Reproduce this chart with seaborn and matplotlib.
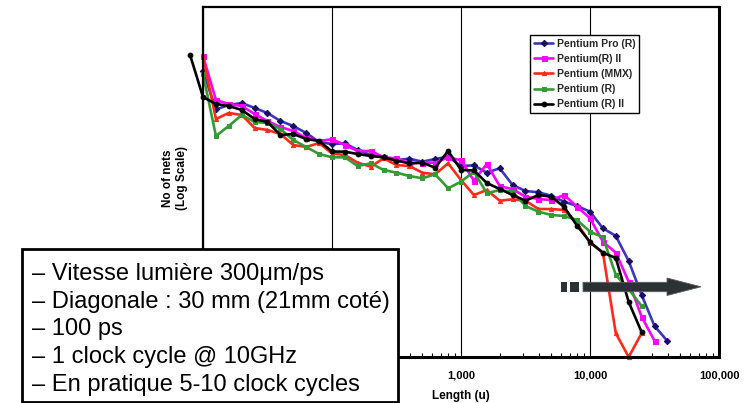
import matplotlib
matplotlib.use("Agg")
import matplotlib.pyplot as plt
from matplotlib.patches import Rectangle, Polygon
from matplotlib.ticker import FixedLocator, FuncFormatter, LogLocator, NullLocator
import seaborn as sns

# Net length bins (u), one bin per tenth of a decade
LENGTH = [7.94, 10, 12.6, 15.8, 20.0, 25.1, 31.6, 39.8, 50.1, 63.1, 79.4,
          100, 126, 158, 200, 251, 316, 398, 501, 631, 794,
          1000, 1259, 1585, 1995, 2512, 3162, 3981, 5012, 6310, 7943,
          10000, 12589, 15849, 19953, 25119, 31623, 39811]

# Number of nets per length bin
PENTIUM_PRO = [80000, 17500, 20900, 22600, 18570, 15240, 11110, 9120, 6920, 4850,
               4480, 4600, 3540, 2900, 2650, 2380, 2510, 2230, 2480, 2715,
               1880, 1930, 1445, 1720, 889, 701, 666, 582, 459, 388,
               310, 161, 119, 44.2, 11.6, 3.40, 1.88]
PENTIUM_II = [144500, 25460, 21730, 20090, 14650, 11110, 8770, 7480, 5680, 5050,
              5400, 4310, 3400, 3400, 2650, 2550, 2090, 2140, 2140, 2650,
              2355, 1060, 2035, 854, 750, 560, 511, 491, 598, 377,
              239, 94.8, 61.4, 19.5, 4.91, 1.90]
PENTIUM_MMX = [139000, 12020, 15240, 14090, 8430, 7790, 6650, 4310, 3980, 4665,
               3080, 2900, 2140, 1830, 2550, 1955, 1880, 1445, 1355, 2090,
               1082, 598, 729, 478, 505, 478, 344, 344, 331, 196,
               91.1, 61.4, 2.55, 1.0, 2.55]
PENTIUM = [71000, 6150, 9120, 14090, 10690, 10260, 8110, 5250, 3980, 3020,
           2650, 2650, 1880, 2090, 1610, 1445, 1268, 1157, 1355, 780,
           1012, 1503, 640, 729, 682, 388, 310, 272, 261, 223,
           141, 113, 25.5, 14.5, 7.48]
PENTIUM_II_B = [150400, 28650, 21730, 20090, 17150, 12020, 10690, 6400, 6650, 5460,
                5050, 3335, 3310, 3020, 2790, 2650, 2320, 2090, 2140, 1760,
                3400, 1610, 1575, 961, 759, 598, 478, 598, 560, 373,
                178, 93.6, 61.4, 49.8, 8.77, 2.68]

SERIES = ["Pentium Pro (R)", "Pentium(R) II", "Pentium (MMX)", "Pentium (R)", "Pentium (R) II"]
X_TICKS = [10, 100, 1000, 10000, 100000]
X_LABELED_FROM = 1000  # labels of the first decades sit under the notes box
NOTES = ["\u2013 Vitesse lumi\u00e8re 300\u03bcm/ps",
         "\u2013 Diagonale : 30 mm (21mm cot\u00e9)",
         "\u2013 100 ps",
         "\u2013 1 clock cycle @ 10GHz",
         "\u2013 En pratique 5-10 clock cycles"]

W, H = 744, 403
sns.set_theme(style="white")
plt.rcParams['font.family'] = ['Liberation Sans', 'DejaVu Sans']


def fx(px):
    return px / W


def fy(py):
    return 1 - py / H


fig = plt.figure(figsize=(W / 100, H / 100), dpi=100)
fig.patch.set_facecolor("white")
ax = fig.add_axes([fx(203), fy(357), (719 - 203) / W, (357 - 7) / H])
ax.set_facecolor("white")

styles = [
    dict(x=LENGTH[1:1 + len(PENTIUM_PRO)], y=PENTIUM_PRO, color="#3b35c0", marker="D",
         mfc="#160f66", mec="#160f66", ms=3.2),
    dict(x=LENGTH[1:1 + len(PENTIUM_II)], y=PENTIUM_II, color="#ff00ff", marker="s",
         mfc="#ff00ff", mec="#ff00ff", ms=3.6),
    dict(x=LENGTH[1:1 + len(PENTIUM_MMX)], y=PENTIUM_MMX, color="#ff2a1a", marker="^",
         mfc="#ff2a1a", mec="#ff2a1a", ms=3.0),
    dict(x=LENGTH[1:1 + len(PENTIUM)], y=PENTIUM, color="#349a34", marker="s",
         mfc="#349a34", mec="#349a34", ms=3.2),
    dict(x=LENGTH[0:len(PENTIUM_II_B)], y=PENTIUM_II_B, color="#000000", marker="o",
         mfc="#000000", mec="#000000", ms=3.4),
]

for name, st in zip(SERIES, styles):
    sns.lineplot(x=st["x"], y=st["y"], ax=ax, color=st["color"], lw=1.9,
                 marker=st["marker"], markersize=st["ms"],
                 markerfacecolor=st["mfc"], markeredgecolor=st["mec"],
                 estimator=None, sort=False, label=name)
    ax.lines[-1].set_clip_on(False)

ax.set_xscale("log")
ax.set_yscale("log")
ax.set_xlim(10, 100000)
ax.set_ylim(1, 1e6)

# x axis: major ticks out with thousands separators, minor ticks inward
ax.xaxis.set_major_locator(FixedLocator(X_TICKS))
ax.xaxis.set_major_formatter(
    FuncFormatter(lambda v, p: f"{int(v):,}" if v >= X_LABELED_FROM else ""))
ax.xaxis.set_minor_locator(LogLocator(base=10, subs=range(2, 10)))
ax.tick_params(axis="x", which="major", direction="out", length=5, width=1,
               color="black", pad=5, labelsize=8, labelcolor="black")
ax.tick_params(axis="x", which="minor", direction="in", length=3, width=0.8,
               color="black", bottom=True)
for lbl in ax.get_xticklabels():
    lbl.set_fontweight("bold")

# y axis carries no ticks
ax.yaxis.set_major_locator(NullLocator())
ax.yaxis.set_minor_locator(NullLocator())

ax.grid(axis="x", which="major", color="black", lw=0.8)
ax.grid(axis="y", visible=False)

for side, lw in [("left", 1.6), ("bottom", 2.2), ("top", 1.6), ("right", 2.2)]:
    ax.spines[side].set_visible(True)
    ax.spines[side].set_color("black")
    ax.spines[side].set_linewidth(lw)

ax.set_xlabel("Length (u)", fontsize=8.5, fontweight="bold", color="black")
ax.xaxis.set_label_coords(0.5, (357 - 396) / 350)
ax.xaxis.label.set_va("center")
ax.set_ylabel("No of nets\n(Log Scale)", fontsize=8.5, fontweight="bold",
              color="black", linespacing=1.25)
ax.yaxis.set_label_coords((175 - 203) / 516, (357 - 178) / 350)
ax.yaxis.label.set_va("center")

leg = ax.legend(loc="upper left", bbox_to_anchor=(fx(530), fy(35)),
                bbox_transform=fig.transFigure, frameon=True, fancybox=False,
                framealpha=1, edgecolor="black", borderpad=0.35,
                labelspacing=0.5, handlelength=1.9, handletextpad=0.35,
                borderaxespad=0, prop=dict(size=7.5, weight="bold"))
leg.get_frame().set_linewidth(1.0)
leg.set_zorder(20)

# Dark arrow pointing towards long nets
arrow_col = "#2c3134"
for x0, x1 in [(561, 567), (570, 579)]:
    fig.add_artist(Rectangle((fx(x0), fy(291.7)), (x1 - x0) / W, 9.4 / H,
                             transform=fig.transFigure, fc=arrow_col, ec="none", zorder=6))
fig.add_artist(Polygon([(fx(583), fy(282.3)), (fx(667), fy(282.3)), (fx(667), fy(278)),
                        (fx(701), fy(286.8)), (fx(667), fy(295.5)), (fx(667), fy(291.7)),
                        (fx(583), fy(291.7))],
                       closed=True, transform=fig.transFigure, fc=arrow_col,
                       ec="#5a5f62", lw=0.6, zorder=6))

# Text box with timing notes
fig.add_artist(Rectangle((fx(22), fy(402)), (398 - 22) / W, (402 - 249) / H,
                         transform=fig.transFigure, fc="white", ec="black",
                         lw=2.0, zorder=30))
for i, line in enumerate(NOTES):
    fig.text(fx(32), fy(280 + 27.7 * i), line, fontsize=17, color="black",
             ha="left", va="baseline", zorder=31)

fig.savefig("out.png", dpi=100, facecolor="white")
